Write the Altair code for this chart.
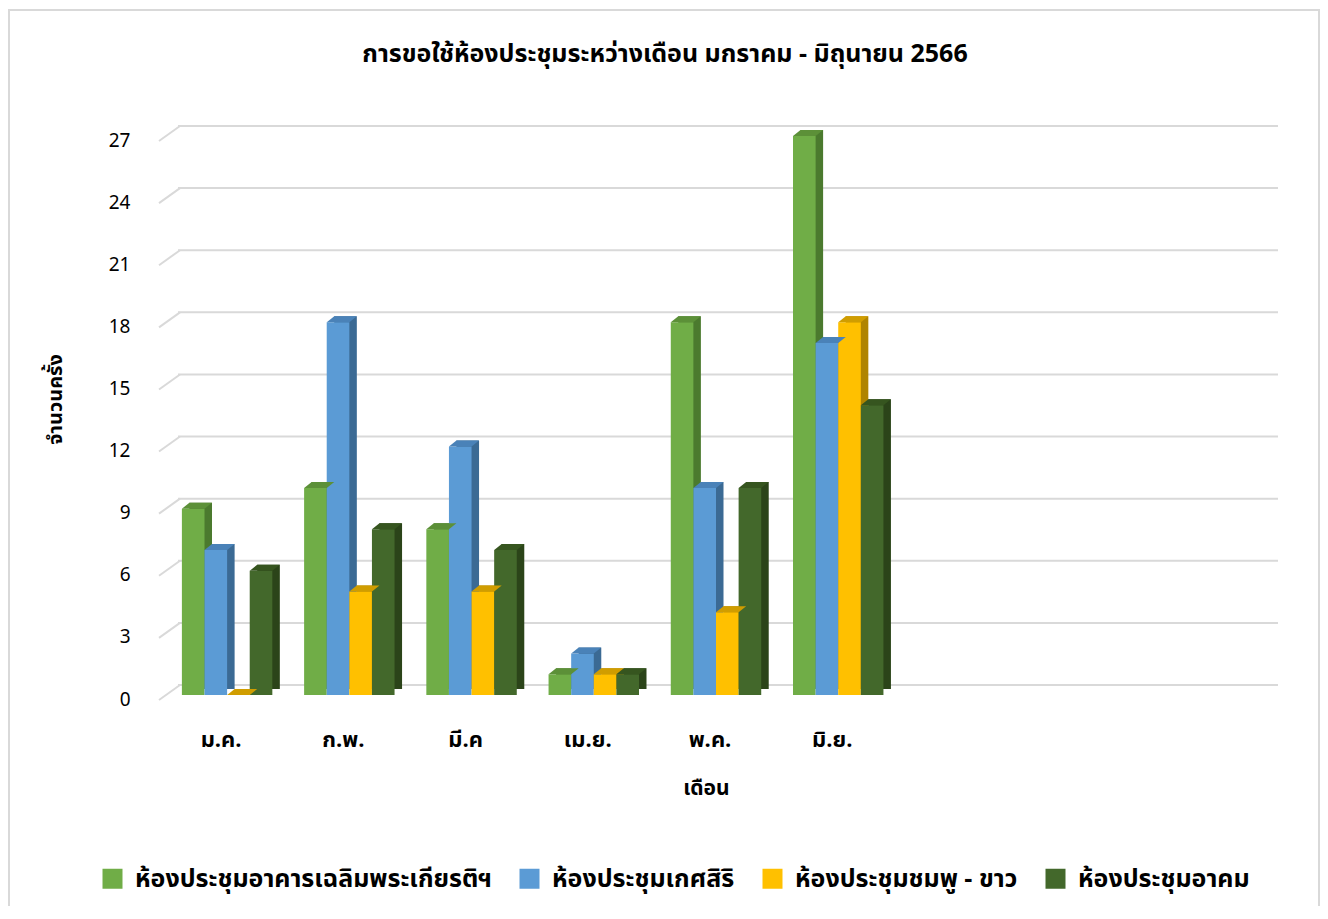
import altair as alt
import pandas as pd

# ---- data ----
months = ["ม.ค.", "ก.พ.", "มี.ค", "เม.ย.", "พ.ค.", "มิ.ย."]
blank_slots = ["", " ", "  "]  # empty category slots on the right
rooms = [
    "ห้องประชุมอาคารเฉลิมพระเกียรติฯ",
    "ห้องประชุมเกศสิริ",
    "ห้องประชุมชมพู - ขาว",
    "ห้องประชุมอาคม",
]
room1 = [9, 10, 8, 1, 18, 27]
room2 = [7, 18, 12, 2, 10, 17]
room3 = [0, 5, 5, 1, 4, 18]
room4 = [6, 8, 7, 1, 10, 14]
y_ticks = [0, 3, 6, 9, 12, 15, 18, 21, 24, 27]
chart_title = "การขอใช้ห้องประชุมระหว่างเดือน มกราคม - มิถุนายน 2566"

front_colors = ["#70AD47", "#5B9BD5", "#FFC000", "#43682B"]
side_colors = ["#4B7A2E", "#3B6A94", "#B08400", "#2B4419"]
top_colors = ["#5C9038", "#4A82B8", "#D09D00", "#36551F"]

rows = []
for ri, (room, vals) in enumerate(zip(rooms, [room1, room2, room3, room4])):
    for m, v in zip(months, vals):
        rows.append({"month": m, "room": room, "value": v,
                     "side": side_colors[ri], "top": top_colors[ri]})
df = pd.DataFrame(rows)
ticks_df = pd.DataFrame({"value": y_ticks})

FONT = "Tahoma, 'Noto Sans Thai', 'Noto Sans', sans-serif"
W, H = 1100, 559
DX, DY = 7.5, -6
PAD_IN = 0.26
BAND = (W / 9) * (1 - PAD_IN)
bw = BAND / 4  # bar width in px

x_enc = alt.X(
    "month:N",
    scale=alt.Scale(domain=months + blank_slots, paddingInner=PAD_IN, paddingOuter=PAD_IN / 2),
    axis=alt.Axis(title="เดือน", labelAngle=0, domain=False, ticks=False, grid=False,
                  labelFont=FONT, labelFontSize=22, labelFontWeight="bold", labelColor="#000000",
                  labelPadding=34, labelOffset=-6,
                  titleFont=FONT, titleFontSize=21, titleFontWeight="bold", titleColor="#000000",
                  titleX=540, titleY=93, titleBaseline="middle", titleAnchor="start", titleAlign="center"),
)
xo_front = alt.XOffset("room:N", scale=alt.Scale(domain=rooms, paddingInner=0, paddingOuter=0))
xo_side = alt.XOffset("room:N", scale=alt.Scale(domain=rooms, paddingInner=0, paddingOuter=0,
                                                range=[DX, BAND + DX]))
xo_top = alt.XOffset("room:N", scale=alt.Scale(type="point", domain=rooms, padding=0,
                                               range=[0, BAND - bw]))
y_scale = alt.Scale(domain=[0, 27], nice=False, zero=True)
y_axis = alt.Axis(title="จำนวนครั้ง", values=y_ticks, domain=False, ticks=False, grid=False,
                  labelFont=FONT, labelFontSize=19, labelColor="#000000", labelPadding=36,
                  labelOffset=4,
                  titleFont=FONT, titleFontSize=20, titleFontWeight="bold", titleColor="#000000",
                  titleX=-111, titleY=263, titleAngle=-90, titleBaseline="middle",
                  titleAlign="center", titleAnchor="start")
y_enc = alt.Y("value:Q", scale=y_scale, axis=y_axis)

one = alt.Data(values=[{"a": 1}])
frame = alt.Chart(one).mark_rect(
    fillOpacity=0, stroke="#d9d9d9", strokeWidth=2
).encode(x=alt.value(-157), x2=alt.value(1153), y=alt.value(-126), y2=alt.value(800))

title_txt = alt.Chart(one).mark_text(
    text=chart_title, font=FONT, fontSize=25, fontWeight="bold", color="#000000",
    align="center", baseline="middle"
).encode(x=alt.value(499), y=alt.value(-82))

grid = alt.Chart(ticks_df).mark_rule(color="#d9d9d9", strokeWidth=2, yOffset=DY - 4).encode(
    x=alt.value(12), x2=alt.value(W + 12), y=y_enc,
)
diag = alt.Chart(ticks_df).mark_rule(color="#d9d9d9", strokeWidth=2, yOffset=5, y2Offset=DY - 4).encode(
    x=alt.value(-7), x2=alt.value(14), y=y_enc, y2=alt.Y2("value"),
)

side = alt.Chart(df).mark_bar(yOffset=DY, y2Offset=-3).encode(
    x=x_enc, xOffset=xo_side, y=y_enc, color=alt.Color("side:N", scale=None),
)

front = alt.Chart(df).mark_bar().encode(
    x=x_enc, xOffset=xo_front, y=y_enc,
    color=alt.Color(
        "room:N",
        scale=alt.Scale(domain=rooms, range=front_colors),
        legend=alt.Legend(
            title=None, orient="none", legendX=-66, legendY=730, direction="horizontal",
            columns=4, symbolType="square", symbolSize=400, symbolStrokeWidth=0,
            symbolOpacity=1, labelFont=FONT, labelFontSize=25, labelFontWeight="bold",
            labelColor="#000000", labelLimit=0, columnPadding=25, labelOffset=10,
        ),
    ),
)

s = 10.0
path = "M 0 0 L {b} 0 L {c} {d} L {e} {d} Z".format(
    b=bw / s, c=(bw + DX) / s, d=DY / s, e=DX / s
)
top = alt.Chart(df).mark_point(shape=path, size=(2 * s) ** 2, filled=True, opacity=1, strokeWidth=0).encode(
    x=x_enc, xOffset=xo_top, y=y_enc, color=alt.Color("top:N", scale=None),
)

chart = alt.layer(frame, title_txt, grid, diag, side, front, top).resolve_scale(
    xOffset="independent"
).properties(
    width=W, height=H,
    autosize=alt.AutoSizeParams(type="none"),
    padding={"left": 158, "top": 128, "right": 54, "bottom": 211},
).configure_view(stroke=None)

chart.save("out.html", embed_options={"renderer": "svg", "actions": False})
